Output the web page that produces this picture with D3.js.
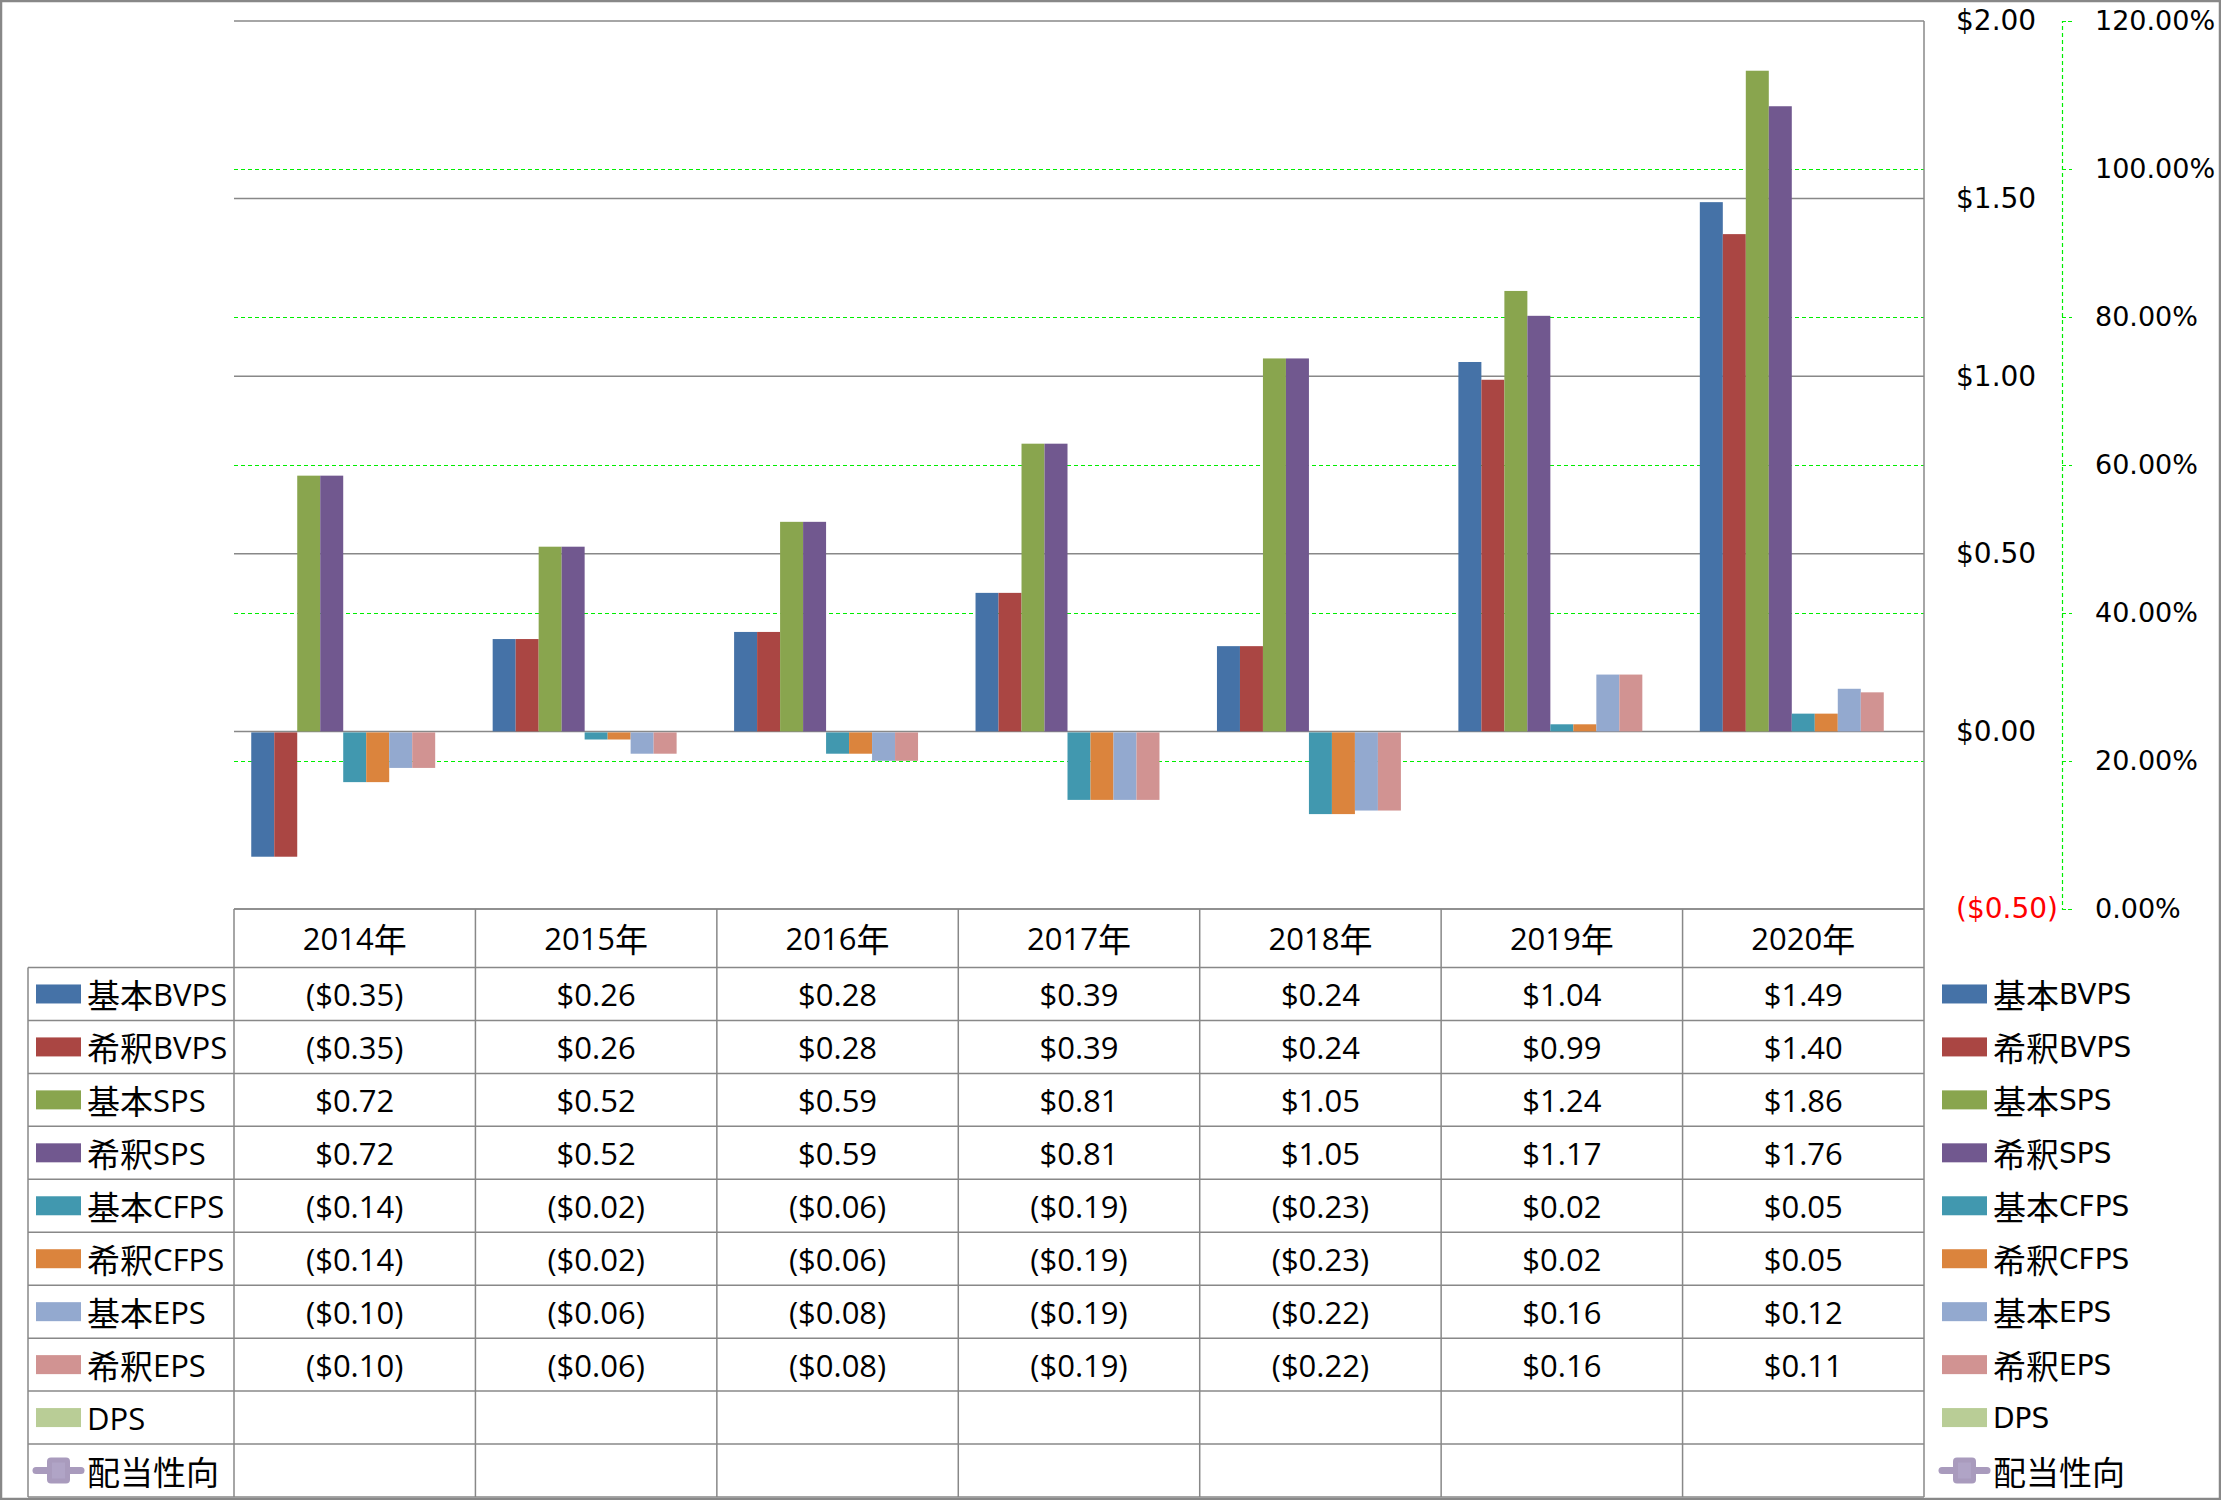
<!DOCTYPE html>
<html>
<head>
<meta charset="utf-8">
<script src="https://cdn.jsdelivr.net/npm/d3@7"></script>
<style>
  body { margin: 0; background: #fff; }
</style>
</head>
<body>
<div id="chart"></div>
<script>
// ---- data ----
var years = ["2014年", "2015年", "2016年", "2017年", "2018年", "2019年", "2020年"];
var seriesNames = ["基本BVPS", "希釈BVPS", "基本SPS", "希釈SPS", "基本CFPS", "希釈CFPS", "基本EPS", "希釈EPS", "DPS"];
var seriesColors = ["#4572A7", "#AA4643", "#89A54E", "#71588F", "#4198AF", "#DB843D", "#93A9CF", "#D19392", "#B9CD96"];

var basicBVPS = [-0.35, 0.26, 0.28, 0.39, 0.24, 1.04, 1.49];
var dilutedBVPS = [-0.35, 0.26, 0.28, 0.39, 0.24, 0.99, 1.40];
var basicSPS = [0.72, 0.52, 0.59, 0.81, 1.05, 1.24, 1.86];
var dilutedSPS = [0.72, 0.52, 0.59, 0.81, 1.05, 1.17, 1.76];
var basicCFPS = [-0.14, -0.02, -0.06, -0.19, -0.23, 0.02, 0.05];
var dilutedCFPS = [-0.14, -0.02, -0.06, -0.19, -0.23, 0.02, 0.05];
var basicEPS = [-0.10, -0.06, -0.08, -0.19, -0.22, 0.16, 0.12];
var dilutedEPS = [-0.10, -0.06, -0.08, -0.19, -0.22, 0.16, 0.11];
var dps = [null, null, null, null, null, null, null];

var lineName = "配当性向";
var lineColor = "#A99BBD";
var payoutRatio = [null, null, null, null, null, null, null];

var dollarTicks = [-0.5, 0, 0.5, 1.0, 1.5, 2.0];
var pctTicks = [0, 0.2, 0.4, 0.6, 0.8, 1.0, 1.2];

var seriesValues = [basicBVPS, dilutedBVPS, basicSPS, dilutedSPS, basicCFPS, dilutedCFPS, basicEPS, dilutedEPS, dps];

// ---- layout ----
var W = 2221, H = 1500;
var plotL = 234, plotR = 1924, plotT = 21, plotB = 909;
var headH = 58.5, rowH = 52.95;
var gridGray = "#888";
var green = "#00ee00";
var tableFont = "'Open Sans', sans-serif";
var axisFont = "'DejaVu Sans', sans-serif";
var cjkFont = "'Noto Sans CJK JP', sans-serif";

var svg = d3.select("#chart").append("svg")
  .attr("width", W)
  .attr("height", H)
  .style("font-family", axisFont);

var x0 = d3.scaleBand().domain(years).range([plotL, plotR]).paddingInner(0).paddingOuter(0);
var x1 = d3.scaleBand().domain(seriesNames).range([0, x0.bandwidth()]).paddingInner(0).paddingOuter(0.75);
var y = d3.scaleLinear().domain([-0.5, 2]).range([plotB, plotT]);
var y2 = d3.scaleLinear().domain([0, 1.2]).range([plotB, plotT]);

function fmtDollar(d) {
  if (d == null) return "";
  return d < 0 ? "($" + Math.abs(d).toFixed(2) + ")" : "$" + d.toFixed(2);
}

// text with CJK runs in a CJK font and the rest in a latin font
function mixedText(sel, label, latinFont, latinSize, cjkSize) {
  var runs = label.match(/[\x00-\x7F]+|[^\x00-\x7F]+/g) || [];
  runs.forEach(function(r){
    var isLatin = /^[\x00-\x7F]+$/.test(r);
    sel.append("tspan")
      .style("font-family", isLatin ? latinFont : cjkFont)
      .style("font-size", (isLatin ? latinSize : cjkSize) + "px")
      .text(r);
  });
}

// green dashed gridlines of the secondary axis
svg.append("g").selectAll("line")
  .data(pctTicks.filter(function(d){ return d > 0 && d < 1.2; }))
  .join("line")
  .attr("x1", plotL).attr("x2", plotR)
  .attr("y1", function(d){ return Math.round(y2(d)) + 0.5; })
  .attr("y2", function(d){ return Math.round(y2(d)) + 0.5; })
  .attr("stroke", green)
  .attr("stroke-width", 1.2)
  .style("stroke-dasharray", "4, 3");

// gray gridlines of the primary axis
svg.append("g").selectAll("line")
  .data(dollarTicks)
  .join("line")
  .attr("x1", plotL).attr("x2", plotR)
  .attr("y1", function(d){ return y(d); })
  .attr("y2", function(d){ return y(d); })
  .attr("stroke", gridGray)
  .attr("stroke-width", 1.5);

// bars
var groups = svg.append("g").selectAll("g")
  .data(seriesNames)
  .join("g")
  .attr("fill", function(d, i){ return seriesColors[i]; });

groups.selectAll("rect")
  .data(function(name, i){
    return years.map(function(yr, j){ return {name: name, year: yr, v: seriesValues[i][j]}; })
      .filter(function(d){ return d.v != null; });
  })
  .join("rect")
  .attr("x", function(d){ return x0(d.year) + x1(d.name); })
  .attr("width", x1.bandwidth())
  .attr("y", function(d){ return d.v >= 0 ? y(d.v) : y(0) + 1; })
  .attr("height", function(d){ return Math.abs(y(d.v) - y(0)); });

// payout ratio line (no values in the source)
svg.append("path")
  .datum(payoutRatio.map(function(v, j){ return {year: years[j], v: v}; }))
  .attr("fill", "none")
  .attr("stroke", lineColor)
  .attr("stroke-width", 6)
  .attr("d", d3.line()
    .defined(function(d){ return d.v != null; })
    .x(function(d){ return x0(d.year) + x0.bandwidth() / 2; })
    .y(function(d){ return y2(d.v); }));

// primary axis ($), labels on the right side
var yAxis = svg.append("g")
  .attr("transform", "translate(1956,0)")
  .call(d3.axisRight(y).tickValues(dollarTicks).tickSize(0).tickPadding(0).tickFormat(fmtDollar));
yAxis.select(".domain").remove();
yAxis.selectAll("text")
  .style("font-family", axisFont)
  .style("font-size", "28px")
  .attr("fill", function(d){ return d < 0 ? "#ff0000" : "#000"; });

// secondary axis (%)
var y2Axis = svg.append("g")
  .attr("transform", "translate(2062,0)")
  .call(d3.axisRight(y2).tickValues(pctTicks).tickSize(10).tickPadding(23)
    .tickFormat(function(d){ return (d * 100).toFixed(2) + "%"; }));
y2Axis.select(".domain")
  .attr("stroke", green)
  .attr("stroke-width", 1.2)
  .style("stroke-dasharray", "4, 3");
y2Axis.selectAll(".tick line")
  .attr("stroke", green)
  .attr("stroke-width", 1.2)
  .style("stroke-dasharray", "4, 3");
y2Axis.selectAll("text")
  .style("font-family", axisFont)
  .style("font-size", "27px")
  .attr("fill", "#000");

// ---- data table ----
var nRows = seriesNames.length + 1;
var rowsTop = plotB + headH;
var tableBottom = rowsTop + nRows * rowH;
var table = svg.append("g");

table.append("line")
  .attr("x1", plotL).attr("x2", plotR)
  .attr("y1", plotB).attr("y2", plotB)
  .attr("stroke", gridGray).attr("stroke-width", 1.5);

table.selectAll("line.h")
  .data(d3.range(nRows + 1))
  .join("line")
  .attr("class", "h")
  .attr("x1", 28).attr("x2", plotR)
  .attr("y1", function(i){ return rowsTop + i * rowH; })
  .attr("y2", function(i){ return rowsTop + i * rowH; })
  .attr("stroke", gridGray).attr("stroke-width", 1.5);

table.selectAll("line.v")
  .data(years)
  .join("line")
  .attr("class", "v")
  .attr("x1", function(d){ return x0(d); })
  .attr("x2", function(d){ return x0(d); })
  .attr("y1", plotB).attr("y2", tableBottom)
  .attr("stroke", gridGray).attr("stroke-width", 1.5);

table.append("line")
  .attr("x1", 28).attr("x2", 28)
  .attr("y1", rowsTop).attr("y2", tableBottom)
  .attr("stroke", gridGray).attr("stroke-width", 1.5);

// right border of plot + table
svg.append("line")
  .attr("x1", plotR).attr("x2", plotR)
  .attr("y1", plotT).attr("y2", tableBottom)
  .attr("stroke", gridGray).attr("stroke-width", 1.5);

// header
table.selectAll("text.head")
  .data(years)
  .join("text")
  .attr("class", "head")
  .attr("x", function(d){ return x0(d) + x0.bandwidth() / 2; })
  .attr("y", plotB + headH / 2)
  .attr("text-anchor", "middle")
  .attr("dominant-baseline", "central")
  .attr("fill", "#000")
  .each(function(d){ mixedText(d3.select(this), d, tableFont, 31, 33); });

// value cells
seriesNames.forEach(function(name, i){
  var cy = rowsTop + i * rowH + rowH / 2;
  table.append("g").selectAll("text")
    .data(seriesValues[i])
    .join("text")
    .attr("x", function(d, j){ return x0(years[j]) + x0.bandwidth() / 2; })
    .attr("y", cy)
    .attr("text-anchor", "middle")
    .attr("dominant-baseline", "central")
    .attr("fill", "#000")
    .style("font-family", tableFont)
    .style("font-size", "31px")
    .text(fmtDollar);
});

// legend keys in the table and on the right
var legendNames = seriesNames.concat([lineName]);
function drawLegend(g, swX, txtX, latinFont, latinSize){
  legendNames.forEach(function(name, i){
    var cy = rowsTop + i * rowH + rowH / 2;
    if (i < seriesNames.length) {
      g.append("rect")
        .attr("x", swX).attr("y", cy - 9.5)
        .attr("width", 45).attr("height", 19)
        .attr("fill", seriesColors[i]);
    } else {
      g.append("line")
        .attr("x1", swX).attr("x2", swX + 45)
        .attr("y1", cy).attr("y2", cy)
        .attr("stroke", lineColor).attr("stroke-width", 7)
        .attr("stroke-linecap", "round");
      g.append("rect")
        .attr("x", swX + 11).attr("y", cy - 13)
        .attr("width", 23).attr("height", 26)
        .attr("rx", 4)
        .attr("fill", lineColor);
      g.append("rect")
        .attr("x", swX + 16).attr("y", cy - 8)
        .attr("width", 13).attr("height", 16)
        .attr("fill", "#B0A4C6");
    }
    var t = g.append("text")
      .attr("x", txtX).attr("y", cy)
      .attr("dominant-baseline", "central")
      .attr("fill", "#000");
    mixedText(t, name, latinFont, latinSize, 33);
  });
}
drawLegend(svg.append("g"), 36, 87, tableFont, 31);
drawLegend(svg.append("g"), 1942, 1993, axisFont, 28);

// outer border
svg.append("rect")
  .attr("x", 1).attr("y", 1)
  .attr("width", W - 2).attr("height", H - 2)
  .attr("fill", "none")
  .attr("stroke", gridGray)
  .attr("stroke-width", 2.5);
</script>
</body>
</html>
